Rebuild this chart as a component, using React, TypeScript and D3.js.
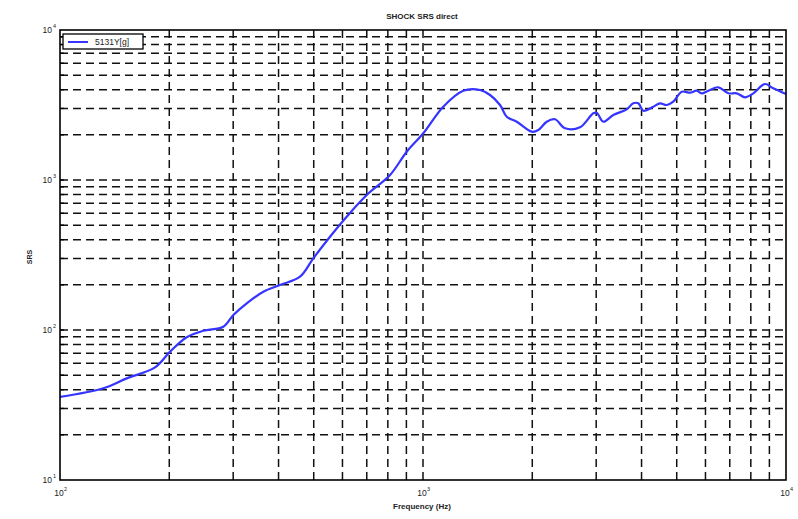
import React from 'react';
import * as d3 from 'd3';

const freqs = [100, 131.6, 152.7, 182.7, 201, 223.4, 248.1, 281.8, 300.3, 326.9, 363.2, 403.7, 458.3, 498.7, 554.4, 616.3, 699.8, 811.3, 902, 1002, 1137, 1291, 1436, 1530, 1630, 1701, 1812, 1993, 2078, 2192, 2310, 2462, 2707, 2945, 3010, 3138, 3344, 3641, 3796, 3919, 4045, 4310, 4497, 4692, 4892, 5161, 5439, 5675, 5858, 6109, 6510, 6937, 7315, 7712, 8128, 8752, 9226, 10000];
const srs = [35.8, 40.9, 47.6, 56.4, 71.7, 89.4, 98.9, 105.2, 125.9, 150.7, 180.0, 199.5, 226.6, 300.6, 418.8, 569.3, 794.3, 1080, 1544, 2048, 3081, 3938, 3981, 3687, 3162, 2642, 2447, 2099, 2154, 2447, 2539, 2211, 2245, 2783, 2809, 2447, 2713, 2960, 3246, 3246, 2897, 3081, 3246, 3162, 3327, 3879, 3819, 3938, 3784, 3938, 4150, 3784, 3784, 3559, 3784, 4365, 4088, 3745];

const xDecades = [100, 1000, 10000];
const xExps = ['2', '3', '4'];
const yDecades = [10, 100, 1000, 10000];
const yExps = ['1', '2', '3', '4'];
const titleText = 'SHOCK SRS  direct';
const xLabel = 'Frequency (Hz)';
const yLabel = 'SRS';
const legendLabel = '5131Y[g]';

export default function App() {
  const W = 798, H = 519;
  const L = 60, R = 786, T = 30, B = 480;
  const x = d3.scaleLog().domain([100, 10000]).range([L, R]);
  const y = d3.scaleLog().domain([10, 10000]).range([B, T]);
  const xt = x.ticks().filter(v => v > 100 && v < 10000);
  const yt = y.ticks().filter(v => v > 10 && v < 10000);
  const line = d3.line<number>().x((d, i) => x(freqs[i])).y(d => y(d)).curve(d3.curveCatmullRom.alpha(0.5));
  const font = 'Liberation Sans, Arial, sans-serif';
  const gridStroke = '#111';
  return (
    <svg width={W} height={H} style={{ position: 'absolute', left: 0, top: 0, background: '#fff' }} fontFamily={font}>
      <rect x={0} y={0} width={W} height={H} fill="#fff" />
      {yt.map((v, i) => (
        <line key={'hy' + i} x1={L} x2={R} y1={y(v)} y2={y(v)} stroke={gridStroke} strokeWidth={1.5} strokeDasharray="8,5" />
      ))}
      {xt.map((v, i) => (
        <line key={'vx' + i} x1={x(v)} x2={x(v)} y1={B} y2={T} stroke={gridStroke} strokeWidth={1.5} strokeDasharray="8,5" />
      ))}
      {yt.map((v, i) => (
        <line key={'ty' + i} x1={L} x2={L + 4} y1={y(v)} y2={y(v)} stroke="#000" strokeWidth={1.3} />
      ))}
      <path d={line(srs) || ''} fill="none" stroke="#3535ff" strokeWidth={2.2} strokeLinejoin="round" />
      <rect x={L} y={T} width={R - L} height={B - T} fill="none" stroke="#000" strokeWidth={1.6} />
      <g>
        <rect x={63} y={34} width={80} height={15} fill="#fff" stroke="#000" strokeWidth={1.3} />
        <line x1={68} x2={88} y1={42} y2={42} stroke="#3535ff" strokeWidth={2} />
        <text x={95} y={45} fontSize={8.5} fill="#222">{legendLabel}</text>
      </g>
      {yDecades.map((v, i) => (
        <g key={'yl' + i}>
          <text x={52} y={y(v) + 3} fontSize={8.5} textAnchor="end" fill="#222">10</text>
          <text x={53} y={y(v) - 2} fontSize={5.5} fill="#222">{yExps[i]}</text>
        </g>
      ))}
      {xDecades.map((v, i) => (
        <g key={'xl' + i}>
          <text x={x(v) - 1} y={496} fontSize={8.5} textAnchor="middle" fill="#222">10</text>
          <text x={x(v) + 4} y={491} fontSize={5.5} fill="#222">{xExps[i]}</text>
        </g>
      ))}
      <text x={422} y={19} fontSize={8} fontWeight="bold" textAnchor="middle" fill="#222">{titleText}</text>
      <text x={422} y={509} fontSize={8} fontWeight="bold" textAnchor="middle" fill="#222">{xLabel}</text>
      <text transform="translate(32,257) rotate(-90)" fontSize={7} fontWeight="bold" textAnchor="middle" fill="#222">{yLabel}</text>
    </svg>
  );
}
